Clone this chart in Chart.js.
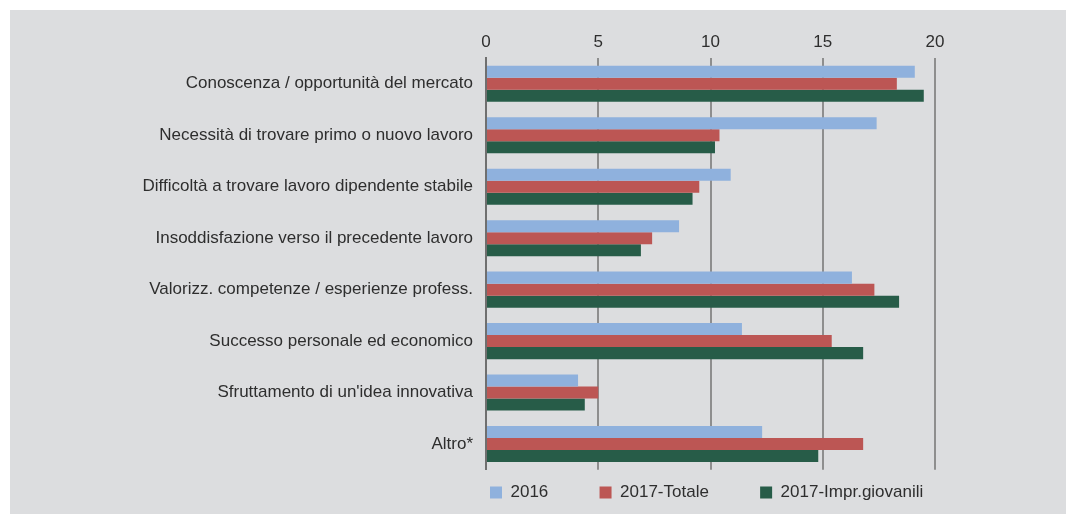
<!DOCTYPE html>
<html>
<head>
<meta charset="utf-8">
<script src="https://cdn.jsdelivr.net/npm/chart.js@4/dist/chart.umd.min.js"></script>
<style>
  body { margin: 0; background: #ffffff; }
  #wrap { position: absolute; left: 10px; top: 10px; width: 1056px; height: 504px; background: #dcdddf; }
</style>
</head>
<body>
<div id="wrap"><canvas id="chart" width="1056" height="504"></canvas></div>
<script>
// motivazioni (valori in %)
const categories = [
    'Conoscenza / opportunità del mercato',
    'Necessità di trovare primo o nuovo lavoro',
    'Difficoltà a trovare lavoro dipendente stabile',
    'Insoddisfazione verso il precedente lavoro',
    'Valorizz. competenze / esperienze profess.',
    'Successo personale ed economico',
    "Sfruttamento di un'idea innovativa",
    'Altro*'
];
const seriesNames = ['2016', '2017-Totale', '2017-Impr.giovanili'];
const values2016 = [19.1, 17.4, 10.9, 8.6, 16.3, 11.4, 4.1, 12.3];
const valuesTotale = [18.3, 10.4, 9.5, 7.4, 17.3, 15.4, 5.0, 16.8];
const valuesGiovanili = [19.5, 10.2, 9.2, 6.9, 18.4, 16.8, 4.4, 14.8];
const xTicks = [0, 5, 10, 15, 20];

const fontFamily = "'Liberation Sans', Arial, sans-serif";
const fontSize = 17;
const textColor = '#2e2e2e';

// distanza tra l'inizio di una voce di legenda e la successiva
const legendSteps = [111, 162];
const legendPadding = 4;
const legendBox = 12;

const ctx = document.getElementById('chart').getContext('2d');
new Chart(ctx, {
    type: 'bar',
    data: {
        labels: categories,
        datasets: [
            { label: seriesNames[0], data: values2016, backgroundColor: '#8fb1dd' },
            { label: seriesNames[1], data: valuesTotale, backgroundColor: '#bc5654' },
            { label: seriesNames[2], data: valuesGiovanili, backgroundColor: '#275c48' }
        ]
    },
    options: {
        indexAxis: 'y',
        responsive: false,
        animation: false,
        layout: { padding: { left: 0, right: 131, top: 0, bottom: 3 } },
        datasets: {
            bar: { categoryPercentage: 0.7, barPercentage: 1.0, borderWidth: 0 }
        },
        scales: {
            x: {
                position: 'top',
                min: xTicks[0],
                max: xTicks[xTicks.length - 1],
                afterBuildTicks: (scale) => { scale.ticks = xTicks.map(v => ({ value: v })); },
                afterFit: (scale) => { scale.height = 48; },
                grid: { color: '#8e8e8e', lineWidth: 2, drawTicks: false, tickLength: 0 },
                border: { display: false },
                ticks: {
                    padding: 5,
                    color: textColor,
                    font: { family: fontFamily, size: fontSize }
                }
            },
            y: {
                afterFit: (scale) => { scale.width = 476; },
                grid: { display: false, drawTicks: false, tickLength: 0 },
                border: { display: true, color: '#6f6f6f', width: 2 },
                ticks: {
                    padding: 13,
                    color: textColor,
                    font: { family: fontFamily, size: fontSize }
                }
            }
        },
        plugins: {
            tooltip: { enabled: false },
            legend: {
                position: 'bottom',
                align: 'start',
                fullSize: false,
                title: { display: true, text: ' ', font: { size: 1 }, padding: { top: 0, bottom: 9 } },
                labels: {
                    boxWidth: legendBox,
                    boxHeight: legendBox,
                    padding: legendPadding,
                    color: textColor,
                    font: { family: fontFamily, size: fontSize },
                    generateLabels: (chart) => {
                        const items = Chart.defaults.plugins.legend.labels.generateLabels(chart);
                        const c = chart.ctx;
                        c.save();
                        c.font = fontSize + 'px ' + fontFamily;
                        const spaceW = c.measureText('\u00a0').width;
                        items.forEach((item, i) => {
                            item.lineWidth = 0;
                            if (i < legendSteps.length) {
                                const base = legendBox + fontSize / 2 + c.measureText(item.text).width + legendPadding;
                                const n = Math.max(0, Math.round((legendSteps[i] - base) / spaceW));
                                item.text = item.text + '\u00a0'.repeat(n);
                            }
                        });
                        c.restore();
                        return items;
                    }
                }
            }
        }
    }
});
</script>
</body>
</html>
